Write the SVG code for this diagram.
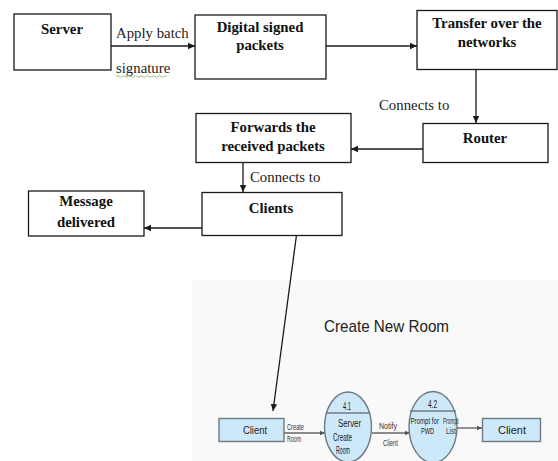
<svg xmlns="http://www.w3.org/2000/svg" width="558" height="461" viewBox="0 0 558 461">
  <style>
    .box { fill: #ffffff; stroke: #1a1a1a; stroke-width: 1.3; }
    .title { font-family: "Liberation Serif", "Times New Roman", serif; font-weight: bold; font-size: 14.8px; fill: #111; text-anchor: middle; }
    .lbl { font-family: "Liberation Serif", "Times New Roman", serif; font-size: 14.8px; fill: #222; }
    .edge { stroke: #1a1a1a; stroke-width: 1.3; fill: none; }
    .dfd { fill: #cde8f8; stroke: #6f7b84; stroke-width: 1.4; }
    .dfdt { font-family: "Liberation Sans", Arial, sans-serif; font-size: 10px; fill: #222; }
    .dfdl { font-family: "Liberation Sans", Arial, sans-serif; font-size: 9.5px; fill: #333; }
    .tight { font-size: 8.2px; }
    .flow { stroke: #666; stroke-width: 1.4; fill: none; }
  </style>
  <defs>
    <marker id="arr" markerWidth="8" markerHeight="8" refX="7" refY="4" orient="auto" markerUnits="userSpaceOnUse">
      <path d="M0,0.8 L7,4 L0,7.2 z" fill="#1a1a1a"/>
    </marker>
    <marker id="arrs" markerWidth="6" markerHeight="6" refX="5" refY="3" orient="auto" markerUnits="userSpaceOnUse">
      <path d="M0,0.8 L5,3 L0,5.2 z" fill="#555"/>
    </marker>
  </defs>

  <rect width="558" height="461" fill="#ffffff"/>
  <!-- faint backdrop behind the room-creation flow -->
  <rect x="192" y="280" width="366" height="181" fill="#f9f9f9"/>

  <!-- connectors -->
  <g id="connectors">
    <line class="edge" x1="111" y1="46" x2="195" y2="46" marker-end="url(#arr)"/>
    <line class="edge" x1="326" y1="46" x2="417" y2="46" marker-end="url(#arr)"/>
    <line class="edge" x1="476" y1="70" x2="476" y2="123" marker-end="url(#arr)"/>
    <line class="edge" x1="423" y1="149" x2="351" y2="149" marker-end="url(#arr)"/>
    <line class="edge" x1="243" y1="163" x2="243" y2="192" marker-end="url(#arr)"/>
    <line class="edge" x1="202" y1="228" x2="144" y2="228" marker-end="url(#arr)"/>
    <line class="edge" x1="296.5" y1="235" x2="273" y2="411" marker-end="url(#arr)"/>

    <text class="lbl" x="116" y="38">Apply batch</text>
    <text class="lbl" x="116" y="73">signature</text>
    <path d="M116,76.5 q1.5,-1.5 3,0 t3,0 t3,0 t3,0 t3,0 t3,0 t3,0 t3,0 t3,0 t3,0 t3,0 t3,0 t3,0 t3,0 t3,0 t3,0 t3,0" stroke="#8fbf6a" stroke-width="0.9" fill="none"/>
    <text class="lbl" x="379" y="110">Connects to</text>
    <text class="lbl" x="250" y="182">Connects to</text>
  </g>

  <g id="server">
    <rect class="box" x="14" y="14" width="97" height="56"/>
    <text class="title" x="62" y="34">Server</text>
  </g>

  <g id="digital-signed">
    <rect class="box" x="195" y="15" width="131" height="64"/>
    <text class="title" x="260" y="32">Digital signed</text>
    <text class="title" x="260" y="50">packets</text>
  </g>

  <g id="transfer">
    <rect class="box" x="417" y="10.5" width="140" height="59"/>
    <text class="title" x="487" y="28">Transfer over the</text>
    <text class="title" x="487" y="47">networks</text>
  </g>

  <g id="router">
    <rect class="box" x="423" y="123.5" width="125" height="39"/>
    <text class="title" x="485" y="143">Router</text>
  </g>

  <g id="forwards">
    <rect class="box" x="196" y="113.5" width="155" height="49"/>
    <text class="title" x="273" y="132">Forwards the</text>
    <text class="title" x="273" y="151">received packets</text>
  </g>

  <g id="clients">
    <rect class="box" x="202" y="192.5" width="140" height="43"/>
    <text class="title" x="271" y="213">Clients</text>
  </g>

  <g id="message-delivered">
    <rect class="box" x="28.5" y="191" width="115.5" height="45"/>
    <text class="title" x="86" y="206">Message</text>
    <text class="title" x="86" y="227">delivered</text>
  </g>

  <!-- room creation data flow -->
  <g id="create-new-room">
    <text x="324" y="332" font-family="'Liberation Sans', Arial, sans-serif" font-size="17" fill="#222" textLength="125" lengthAdjust="spacingAndGlyphs">Create New Room</text>
  </g>

  <g id="dfd-flows">
    <line class="flow" x1="284" y1="433" x2="325" y2="433" marker-end="url(#arrs)"/>
    <line class="flow" x1="372" y1="433" x2="410" y2="433" marker-end="url(#arrs)"/>
    <line class="flow" x1="457" y1="428" x2="482" y2="428" marker-end="url(#arrs)"/>
  </g>

  <g id="client-1">
    <rect class="dfd" x="219" y="418.5" width="65" height="23"/>
    <text class="dfdt" x="243" y="434" textLength="24" lengthAdjust="spacingAndGlyphs">Client</text>
  </g>

  <g id="process-4-1">
    <ellipse class="dfd" cx="348" cy="427" rx="23.5" ry="35"/>
    <line x1="326" y1="413" x2="370" y2="413" stroke="#6f7b84" stroke-width="1.3"/>
    <text class="dfdt" x="343" y="410" textLength="8" lengthAdjust="spacingAndGlyphs">4.1</text>
    <text class="dfdt" x="338" y="427" textLength="23" lengthAdjust="spacingAndGlyphs">Server</text>
    <text class="dfdt" x="333" y="441" textLength="19" lengthAdjust="spacingAndGlyphs">Create</text>
    <text class="dfdt" x="336" y="454" textLength="14" lengthAdjust="spacingAndGlyphs">Room</text>
  </g>

  <g id="process-4-2">
    <ellipse class="dfd" cx="433" cy="427" rx="24" ry="35.5"/>
    <line x1="410" y1="411" x2="456" y2="411" stroke="#6f7b84" stroke-width="1.3"/>
    <text class="dfdt" x="428" y="408" textLength="9" lengthAdjust="spacingAndGlyphs">4.2</text>
    <text class="dfdt tight" x="410.5" y="423.5" textLength="28.5" lengthAdjust="spacingAndGlyphs">Prompt for</text>
    <text class="dfdt tight" x="421" y="433.5" textLength="13" lengthAdjust="spacingAndGlyphs">PWD</text>
  </g>

  <g id="client-2">
    <rect class="dfd" x="482.5" y="418.5" width="58" height="23"/>
    <text class="dfdt" x="498" y="434" textLength="28" lengthAdjust="spacingAndGlyphs">Client</text>
  </g>

  <!-- flow labels sit on top of the process bubbles -->
  <g id="dfd-flow-labels">
    <text class="dfdl" x="287" y="430" textLength="17" lengthAdjust="spacingAndGlyphs">Create</text>
    <text class="dfdl" x="287" y="442" textLength="14" lengthAdjust="spacingAndGlyphs">Room</text>
    <text class="dfdl" x="379" y="429" textLength="18" lengthAdjust="spacingAndGlyphs">Notify</text>
    <text class="dfdl" x="383" y="446" textLength="15" lengthAdjust="spacingAndGlyphs">Client</text>
    <text class="dfdl tight" x="443" y="423.5" textLength="15.5" lengthAdjust="spacingAndGlyphs">Prompt</text>
    <text class="dfdl tight" x="446" y="433.5" textLength="10" lengthAdjust="spacingAndGlyphs">List</text>
  </g>
</svg>
